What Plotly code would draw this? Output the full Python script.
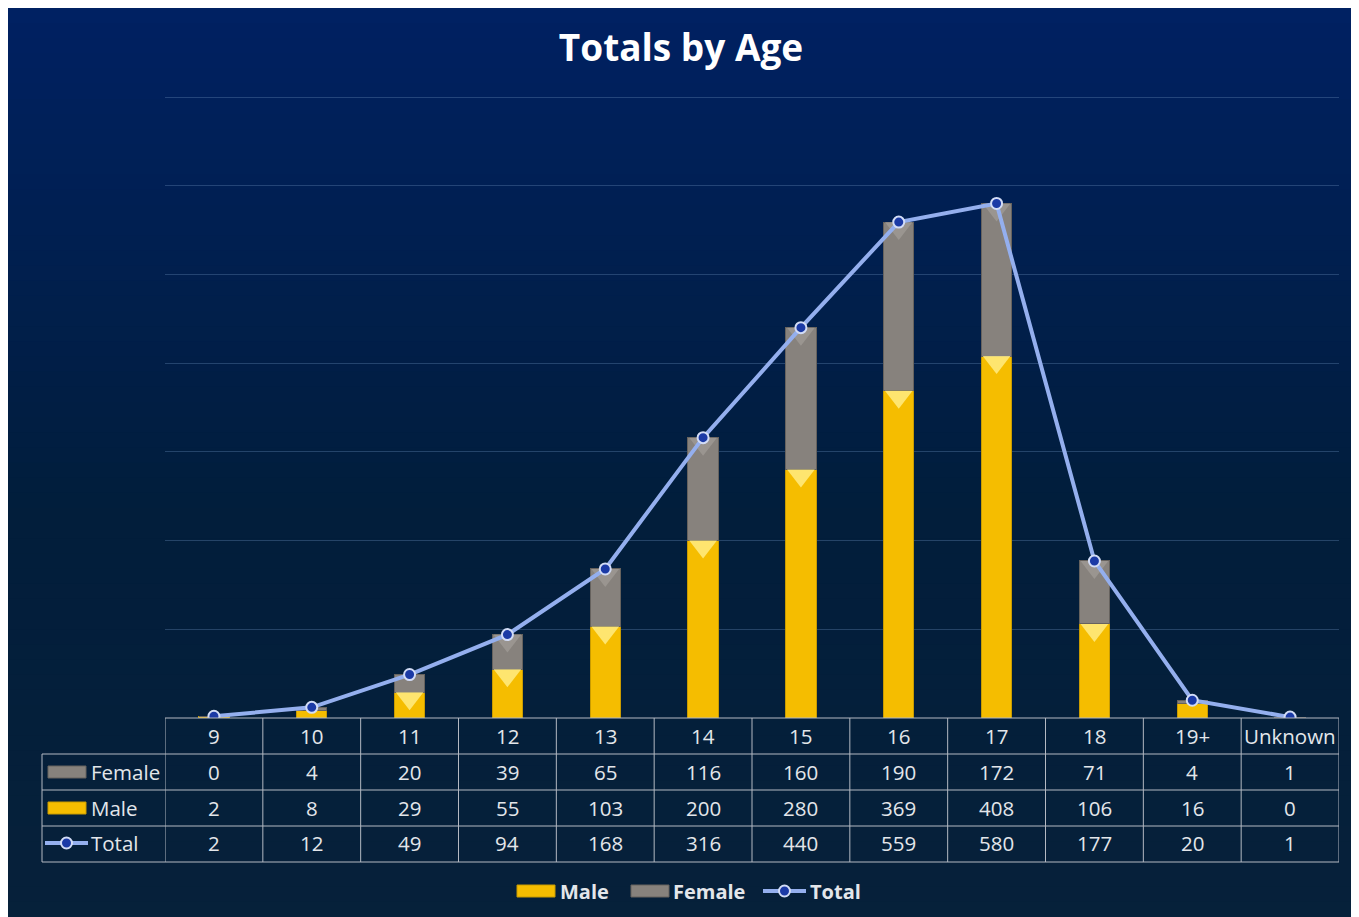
import plotly.graph_objects as go

FONT = "'Open Sans', sans-serif"
# page body has an 8px margin, so the figure is laid out in reference pixels minus 8
OFF = 8
W, H = 1359 - OFF, 917 - OFF

ages = ["9", "10", "11", "12", "13", "14", "15", "16", "17", "18", "19+", "Unknown"]
female = [0, 4, 20, 39, 65, 116, 160, 190, 172, 71, 4, 1]
male = [2, 8, 29, 55, 103, 200, 280, 369, 408, 106, 16, 0]
total = [2, 12, 49, 94, 168, 316, 440, 559, 580, 177, 20, 1]

GOLD = "#f5bd00"
GRAY = "#87827d"
LINE = "#94afee"
DOT = "#1b3aa6"
TXT = "#e3e6ea"
GRID_C = "#b4b9c2"

Y_MAX = 705
PX_PER_UNIT = 621 / 700  # plot height in px per data unit


def px(x):
    return (x - OFF) / W


def py(y):
    return 1 - (y - OFF) / H


xs = list(range(len(ages)))

fig = go.Figure()
fig.add_trace(go.Bar(
    x=xs, y=male, name="Male", width=0.31,
    marker=dict(color=GOLD, line=dict(color="#c99b00", width=1)),
))
fig.add_trace(go.Bar(
    x=xs, y=female, name="Female", width=0.31,
    marker=dict(color=GRAY, line=dict(color="#66625e", width=1)),
))

# bevel chevrons on top of each bar segment (only where the segment is tall enough)
chev = 24
drop = chev / 4 / PX_PER_UNIT
mx = [i for i in xs if male[i] >= 25]
fig.add_trace(go.Scatter(
    x=mx, y=[male[i] - drop for i in mx], mode="markers", hoverinfo="skip",
    marker=dict(symbol="triangle-down", size=chev, color="rgba(255,236,130,0.85)",
                line=dict(width=0)),
))
fx = [i for i in xs if female[i] >= 25]
fig.add_trace(go.Scatter(
    x=fx, y=[total[i] - drop for i in fx], mode="markers", hoverinfo="skip",
    marker=dict(symbol="triangle-down", size=chev, color="rgba(170,165,160,0.55)",
                line=dict(width=0)),
))

fig.add_trace(go.Scatter(
    x=xs, y=total, name="Total", mode="lines+markers",
    line=dict(color=LINE, width=4),
    marker=dict(size=11, color=DOT, line=dict(color="#d2dcf6", width=2)),
))

shapes = []
# background panel with vertical gradient
top = (0, 33, 98)
mid = (2, 30, 60)
bot = (7, 33, 58)
n = 60
for i in range(n):
    t = i / (n - 1)
    if t < 0.55:
        u = t / 0.55
        c = tuple(int(top[k] + (mid[k] - top[k]) * u) for k in range(3))
    else:
        u = (t - 0.55) / 0.45
        c = tuple(int(mid[k] + (bot[k] - mid[k]) * u) for k in range(3))
    shapes.append(dict(
        type="rect", xref="paper", yref="paper", layer="below",
        x0=0, x1=1, y0=max(0, 1 - (i + 1.05) / n), y1=1 - i / n,
        fillcolor="rgb(%d,%d,%d)" % c, line=dict(width=0),
    ))

# data table grid
row_y = [718, 754, 790, 826, 862]
shapes.append(dict(type="line", xref="x", yref="paper", x0=-0.5, x1=11.5,
                   y0=py(718), y1=py(718), line=dict(color=GRID_C, width=1)))
for yy in row_y[1:]:
    shapes.append(dict(type="line", xref="paper", yref="paper", x0=px(42), x1=px(1339),
                       y0=py(yy), y1=py(yy), line=dict(color=GRID_C, width=1)))
for i in range(len(ages) + 1):
    shapes.append(dict(type="line", xref="x", yref="paper", x0=i - 0.5, x1=i - 0.5,
                       y0=py(718), y1=py(862), line=dict(color=GRID_C, width=1)))
shapes.append(dict(type="line", xref="paper", yref="paper", x0=px(42), x1=px(42),
                   y0=py(754), y1=py(862), line=dict(color=GRID_C, width=1)))


def bar_key(x0, x1, yc, color, edge):
    shapes.append(dict(type="rect", xref="paper", yref="paper", x0=px(x0), x1=px(x1),
                       y0=py(yc + 6), y1=py(yc - 6), fillcolor=color,
                       line=dict(color=edge, width=1)))


def line_key(x0, x1, yc):
    shapes.append(dict(type="line", xref="paper", yref="paper", x0=px(x0), x1=px(x1),
                       y0=py(yc), y1=py(yc), line=dict(color=LINE, width=4)))
    xc = (x0 + x1) / 2
    shapes.append(dict(type="circle", xref="paper", yref="paper", x0=px(xc - 5.5), x1=px(xc + 5.5),
                       y0=py(yc + 5.5), y1=py(yc - 5.5), fillcolor=DOT,
                       line=dict(color="#d2dcf6", width=2)))


# keys inside the table
bar_key(48, 86, 772, GRAY, "#66625e")
bar_key(48, 86, 808, GOLD, "#c99b00")
line_key(45, 88, 843)

# legend at the bottom
bar_key(517, 555, 891, GOLD, "#c99b00")
bar_key(631, 669, 891, GRAY, "#66625e")
line_key(763, 806, 891)

annotations = []
rows = [(ages, 736), (female, 772), (male, 808), (total, 843)]
for vals, yc in rows:
    for i, v in enumerate(vals):
        annotations.append(dict(
            x=i, y=py(yc), xref="x", yref="paper", text=str(v), showarrow=False,
            font=dict(family=FONT, size=20.5, color=TXT), xanchor="center", yanchor="middle",
        ))
for label, yc in [("Female", 772), ("Male", 808), ("Total", 843)]:
    annotations.append(dict(
        x=px(89), y=py(yc), xref="paper", yref="paper", text=label, showarrow=False,
        font=dict(family=FONT, size=20.5, color=TXT), xanchor="left", yanchor="middle",
    ))
for label, xl in [("Male", 558), ("Female", 671), ("Total", 808)]:
    annotations.append(dict(
        x=px(xl), y=py(891), xref="paper", yref="paper", text="<b>%s</b>" % label,
        showarrow=False, font=dict(family=FONT, size=20, color=TXT),
        xanchor="left", yanchor="middle",
    ))

y_top = 718 - Y_MAX * PX_PER_UNIT
fig.update_layout(
    width=W, height=H,
    margin=dict(l=0, r=0, t=0, b=0),
    paper_bgcolor="#03203c",
    plot_bgcolor="rgba(0,0,0,0)",
    barmode="stack",
    showlegend=False,
    title=dict(text="<b>Totals by Age</b>", x=px(681), xanchor="center", y=py(48), yanchor="middle",
               font=dict(family=FONT, size=37, color="white")),
    font=dict(family=FONT, color=TXT),
    xaxis=dict(domain=[px(165), px(1339)], range=[-0.5, 11.5], showticklabels=False,
               showgrid=False, zeroline=False, showline=False, fixedrange=True),
    yaxis=dict(domain=[py(718), py(y_top)], range=[0, Y_MAX], dtick=100, showticklabels=False,
               gridcolor="rgba(90,125,170,0.4)", gridwidth=1, zeroline=False, showline=False),
    shapes=shapes,
    annotations=annotations,
)

fig.write_html("out.html")
